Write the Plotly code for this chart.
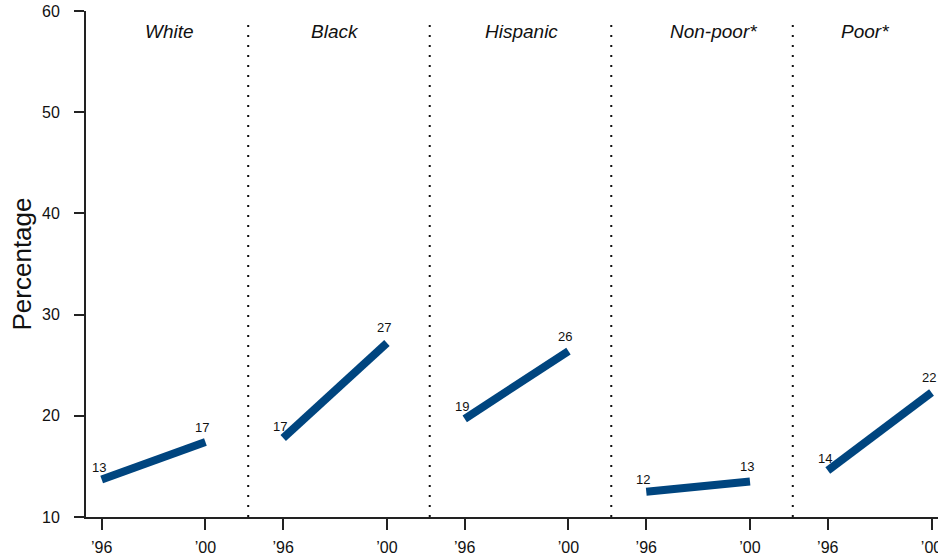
import plotly.graph_objects as go

# ---- data ----
groups = ["White", "Black", "Hispanic", "Non-poor*", "Poor*"]
year_labels = ["\u201996", "\u201900"]
values_1996 = [13.7, 17.8, 19.7, 12.5, 14.6]
values_2000 = [17.4, 27.2, 26.4, 13.5, 22.3]
labels_1996 = ["13", "17", "19", "12", "14"]
labels_2000 = ["17", "27", "26", "13", "22"]
y_ticks = [10, 20, 30, 40, 50, 60]

# ---- layout constants ----
PANEL_STEP = 7.0      # x units between panels
YEAR_GAP = 4.0        # x units between '96 and '00 inside a panel
SEP_OFFSET = 5.65     # separator position from panel start
TITLE_OFFSET = [2.63, 2.0, 2.17, 2.58, 1.44]
LINE_COLOR = "#00457f"
FONT = "Liberation Sans, Arial, Helvetica, sans-serif"

fig = go.Figure()

tickvals, ticktext = [], []
for i, g in enumerate(groups):
    x0 = i * PANEL_STEP
    x1 = x0 + YEAR_GAP
    tickvals += [x0, x1]
    ticktext += year_labels
    fig.add_trace(go.Scatter(
        x=[x0, x1], y=[values_1996[i], values_2000[i]],
        mode="lines", line=dict(color=LINE_COLOR, width=8),
        hoverinfo="skip", showlegend=False, cliponaxis=False,
    ))
    fig.add_annotation(x=x0, y=values_1996[i], text=labels_1996[i],
                       showarrow=False, xshift=-3, yshift=12,
                       font=dict(size=13, color="#111", family=FONT))
    fig.add_annotation(x=x1, y=values_2000[i], text=labels_2000[i],
                       showarrow=False, xshift=-3, yshift=15,
                       font=dict(size=13, color="#111", family=FONT))
    fig.add_annotation(x=x0 + TITLE_OFFSET[i], y=57.95, text="<i>%s</i>" % g,
                       showarrow=False, yanchor="middle",
                       font=dict(size=19, color="#111", family=FONT))
    if i < len(groups) - 1:
        xs = x0 + SEP_OFFSET
        fig.add_shape(type="line", x0=xs, x1=xs, y0=10, y1=59.1,
                      xref="x", yref="y",
                      line=dict(color="#111", width=2, dash="2px,8px"))

fig.update_layout(
    width=938, height=557,
    margin=dict(l=86, r=0, t=11, b=40, autoexpand=False),
    plot_bgcolor="white", paper_bgcolor="white",
    font=dict(family=FONT, color="#111"),
    xaxis=dict(
        range=[-0.605, 32.25], tickvals=tickvals, ticktext=ticktext,
        showgrid=False, zeroline=False, showline=True, linecolor="#222",
        linewidth=2, ticks="outside", ticklen=11, tickwidth=2,
        tickcolor="#222", tickfont=dict(size=16, family=FONT, color="#111"),
        ticklabelstandoff=4, automargin=False, ticklabeloverflow="allow",
    ),
    yaxis=dict(
        range=[10, 60], tickvals=y_ticks,
        showgrid=False, zeroline=False, showline=True, linecolor="#222",
        linewidth=2, ticks="outside", ticklen=10, tickwidth=2,
        tickcolor="#222", tickfont=dict(size=16, family=FONT, color="#111"),
        ticklabelstandoff=11, automargin=False, ticklabeloverflow="allow",
        title=dict(text="Percentage", font=dict(size=26, family=FONT, color="#111"),
                   standoff=3),
    ),
)

fig.write_html(
    "out.html",
    config={"displayModeBar": False},
    post_script="document.body.style.margin='0';document.body.style.overflow='hidden';",
)
